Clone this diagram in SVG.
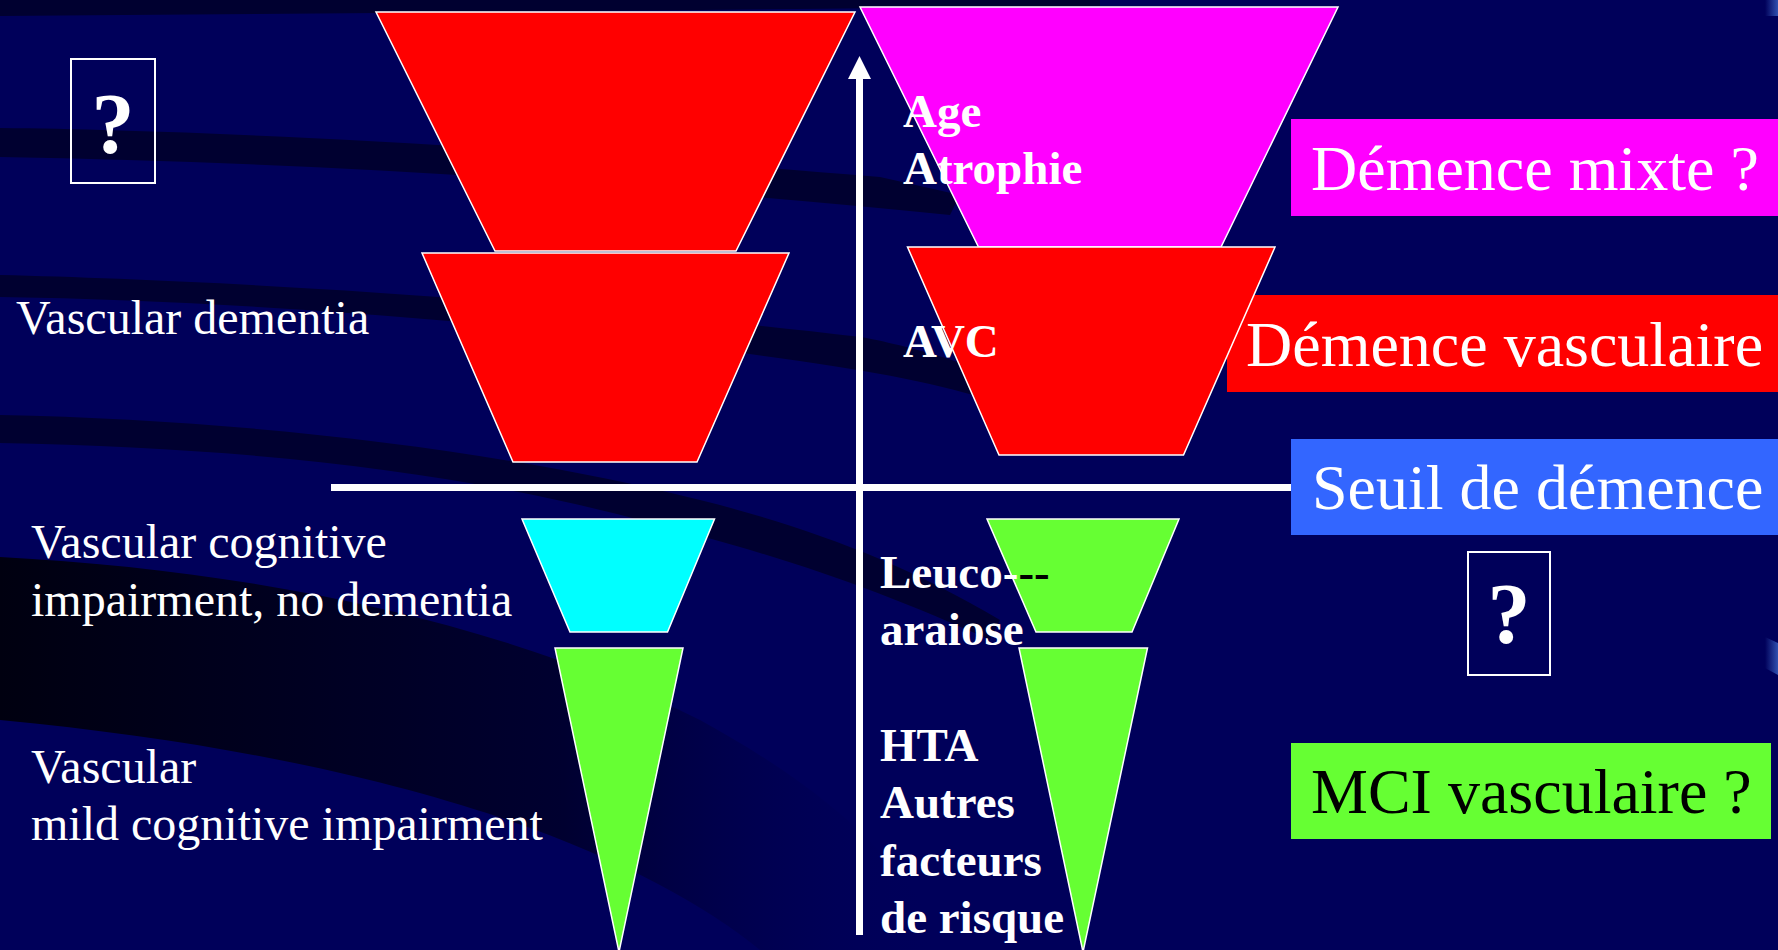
<svg xmlns="http://www.w3.org/2000/svg" width="1778" height="950" viewBox="0 0 1778 950">
<defs>
<style>
.reg{font-family:"Liberation Serif","Times New Roman",serif;font-size:48px;fill:#ffffff}
.bold{font-family:"Liberation Serif","Times New Roman",serif;font-size:47px;font-weight:bold;fill:#ffffff}
.big{font-family:"Liberation Serif","Times New Roman",serif;font-size:64px;fill:#ffffff}
.q{font-family:"Liberation Serif","Times New Roman",serif;font-size:86px;font-weight:bold;fill:#ffffff;text-anchor:middle}
.shape{stroke:#ffffff;stroke-width:1.5}
.qbox{fill:none;stroke:#ffffff;stroke-width:2}
.band{fill:#000030}
</style>
<linearGradient id="darkFade" x1="0" y1="0" x2="1" y2="0">
<stop offset="0" stop-color="#000010"/>
<stop offset="0.6" stop-color="#000030"/>
<stop offset="1" stop-color="#00005A" stop-opacity="0"/>
</linearGradient>
<linearGradient id="edgeGlow" x1="0" y1="0" x2="1" y2="0">
<stop offset="0" stop-color="#00005A"/>
<stop offset="1" stop-color="#3050B0"/>
</linearGradient>
<marker id="arrowHead" viewBox="0 0 24 24" markerWidth="24" markerHeight="24" refX="12" refY="0" markerUnits="userSpaceOnUse" orient="auto-start-reverse">
<path d="M0,0 L24,0 L12,24 Z" fill="#ffffff"/>
</marker>
</defs>

<g id="background">
<rect x="0" y="0" width="1778" height="950" fill="#00005A"/>
<path class="band" d="M0,0 L1100,0 L1100,6 C700,10 300,14 0,16 Z"/>
<path class="band" d="M0,128 C200,130 500,145 880,177 L960,195 L950,215 C600,180 300,162 0,157 Z"/>
<path class="band" d="M0,275 C200,280 500,295 861,337 C920,348 990,370 1010,385 L990,400 C900,372 800,360 600,335 C400,315 200,300 0,297 Z"/>
<path class="band" d="M0,415 C250,420 500,450 700,500 C800,525 900,560 1000,620 L990,640 C880,590 780,555 640,520 C450,470 250,448 0,443 Z"/>
<path fill="url(#darkFade)" d="M0,557 C250,570 500,620 700,720 C800,775 870,830 920,900 L940,950 L760,950 C650,860 420,760 0,720 Z"/>
<rect x="1765" y="0" width="13" height="16" fill="url(#edgeGlow)"/>
<path d="M1765,637 L1778,643 L1778,675 L1765,668 Z" fill="url(#edgeGlow)"/>
</g>

<g id="connectors">
<line x1="331" y1="487.5" x2="1295" y2="487.5" stroke="#ffffff" stroke-width="7"/>
<line x1="859.5" y1="935" x2="859.5" y2="79" stroke="#ffffff" stroke-width="7"/>
<path d="M859.5,56 L871,79 L848,79 Z" fill="#ffffff"/>
</g>

<g id="box-demence-mixte">
<rect x="1291" y="119" width="487" height="97" fill="#FF00FF"/>
<text class="big" x="1311" y="190">Démence mixte ?</text>
</g>
<g id="box-demence-vasculaire">
<rect x="1227" y="295" width="551" height="97" fill="#FF0000"/>
</g>
<g id="box-seuil">
<rect x="1291" y="439" width="487" height="96" fill="#3366FF"/>
<text class="big" x="1312" y="509">Seuil de démence</text>
</g>
<g id="box-mci">
<rect x="1291" y="743" width="480" height="96" fill="#66FF33"/>
<text class="big" x="1311" y="813" fill="#000000" style="fill:#000000">MCI vasculaire ?</text>
</g>

<g id="left-red-top">
<polygon class="shape" points="376,12 855,12 736,251 495,251" fill="#FF0000"/>
</g>
<g id="left-red-bottom">
<polygon class="shape" points="422,253 789,253 697,462 513,462" fill="#FF0000"/>
</g>
<g id="left-cyan">
<polygon class="shape" points="522,519 714.5,519 667.5,632 570,632" fill="#00FFFF"/>
</g>
<g id="left-green">
<polygon class="shape" points="555,648 683,648 619,952" fill="#66FF33"/>
</g>

<g id="right-magenta">
<polygon class="shape" points="860,7 1338,7 1221,247 978.5,247" fill="#FF00FF"/>
</g>
<g id="right-red">
<polygon class="shape" points="907.5,247 1275,247 1183.5,455 999,455" fill="#FF0000"/>
</g>
<g id="right-green-trap">
<polygon class="shape" points="987,519 1179,519 1132,632 1036,632" fill="#66FF33"/>
</g>
<g id="right-green-tri">
<polygon class="shape" points="1019,648 1147.5,648 1083,952" fill="#66FF33"/>
</g>

<g id="label-demence-vasculaire">
<text class="big" x="1246" y="366">Démence vasculaire</text>
</g>

<g id="qbox-left">
<rect class="qbox" x="71" y="59" width="84" height="124"/>
<text class="q" x="113" y="153">?</text>
</g>
<g id="qbox-right">
<rect class="qbox" x="1468" y="552" width="82" height="123"/>
<text class="q" x="1509" y="643">?</text>
</g>

<g id="left-labels">
<text class="reg" x="16" y="334">Vascular dementia</text>
<text class="reg" x="31" y="558">Vascular cognitive</text>
<text class="reg" x="31" y="616">impairment, no dementia</text>
<text class="reg" x="31" y="783">Vascular</text>
<text class="reg" x="31" y="840">mild cognitive impairment</text>
</g>

<g id="axis-labels">
<text class="bold" x="903" y="127">Age</text>
<text class="bold" x="903" y="184">Atrophie</text>
<text class="bold" x="903" y="357">AVC</text>
<text class="bold" x="880" y="588">Leuco-<tspan style="fill:#000000">--</tspan></text>
<text class="bold" x="880" y="645">araiose</text>
<text class="bold" x="880" y="761">HTA</text>
<text class="bold" x="880" y="818">Autres</text>
<text class="bold" x="880" y="876">facteurs</text>
<text class="bold" x="880" y="933">de risque</text>
</g>
</svg>
